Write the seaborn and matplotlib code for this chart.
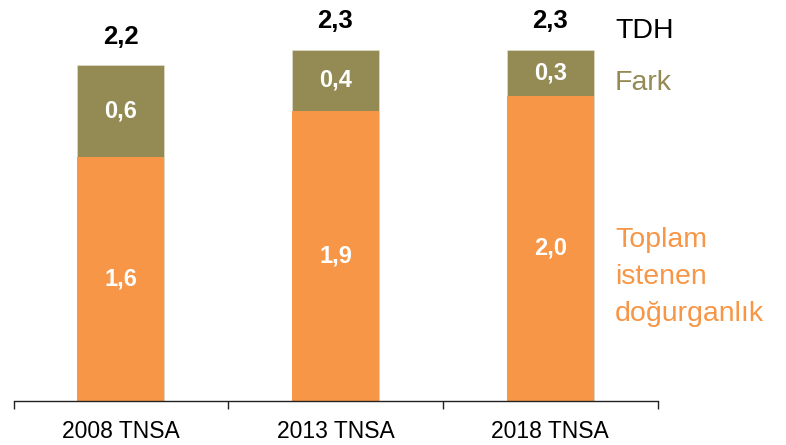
import matplotlib
matplotlib.use("Agg")
import matplotlib.pyplot as plt
import seaborn as sns
import pandas as pd
from matplotlib.ticker import FixedLocator

# ---- data ----
categories = ["2008 TNSA", "2013 TNSA", "2018 TNSA"]
istenen = [1.6, 1.9, 2.0]      # Toplam istenen doğurganlık
fark = [0.6, 0.4, 0.3]         # Fark
tdh = [2.2, 2.3, 2.3]          # TDH
istenen_lbl = ["1,6", "1,9", "2,0"]
fark_lbl = ["0,6", "0,4", "0,3"]
tdh_lbl = ["2,2", "2,3", "2,3"]

ORANGE = "#F79646"
OLIVE = "#948A54"

sns.set_theme(style="white")
plt.rcParams["font.family"] = ["Liberation Sans", "DejaVu Sans"]

W, H = 786, 445
fig = plt.figure(figsize=(W / 100, H / 100), dpi=100)
ax_left, ax_right, ax_bottom_px, ax_top_px = 13.5, 657.5, 401, 0
ax = fig.add_axes([ax_left / W, (H - ax_bottom_px) / H,
                   (ax_right - ax_left) / W, (ax_bottom_px - ax_top_px) / H])

df = pd.DataFrame({"cat": categories, "ist": istenen, "fark": fark, "tdh": tdh})
df["top"] = df["ist"] + df["fark"]

sns.barplot(data=df, x="cat", y="top", color=OLIVE, width=0.404, saturation=1,
            edgecolor="#E8E4D0", linewidth=0.4, ax=ax)
sns.barplot(data=df, x="cat", y="ist", color=ORANGE, width=0.404, saturation=1,
            linewidth=0, ax=ax)

ax.set_xlim(-0.5, 2.5)
ax.set_ylim(0, 401 / 152.7)
ax.set_xlabel("")
ax.set_ylabel("")
ax.set_yticks([])
for s in ["left", "right", "top"]:
    ax.spines[s].set_visible(False)
ax.spines["bottom"].set_color("#222222")
ax.spines["bottom"].set_linewidth(1.0)

ax.xaxis.set_minor_locator(FixedLocator([-0.5, 0.5, 1.5, 2.5]))
ax.tick_params(axis="x", which="minor", length=6, width=1.0, color="#222222",
               direction="out", bottom=True)
ax.tick_params(axis="x", which="major", length=0, pad=13.5, labelsize=16.5,
               labelcolor="black")

for i in range(len(categories)):
    ist = istenen[i]
    fk = fark[i]
    ax.text(i, ist / 2, istenen_lbl[i], ha="center", va="center",
            color="white", fontsize=17, fontweight="bold")
    ax.text(i, ist + fk / 2, fark_lbl[i], ha="center", va="center",
            color="white", fontsize=17, fontweight="bold")
    ax.annotate(tdh_lbl[i], xy=(i, ist + fk), xytext=(0, 15.5),
                textcoords="offset points", ha="center", va="baseline",
                color="black", fontsize=18.5, fontweight="bold")

def ftext(x_px, base_px, s, color):
    fig.text(x_px / W, 1 - base_px / H, s, ha="left", va="baseline",
             color=color, fontsize=20.5)

ftext(615, 38, "TDH", "black")
ftext(615, 90, "Fark", OLIVE)
ftext(615, 247, "Toplam", ORANGE)
ftext(615, 284, "istenen", ORANGE)
ftext(615, 321, "doğurganlık", ORANGE)

fig.savefig("out.png", dpi=100)
